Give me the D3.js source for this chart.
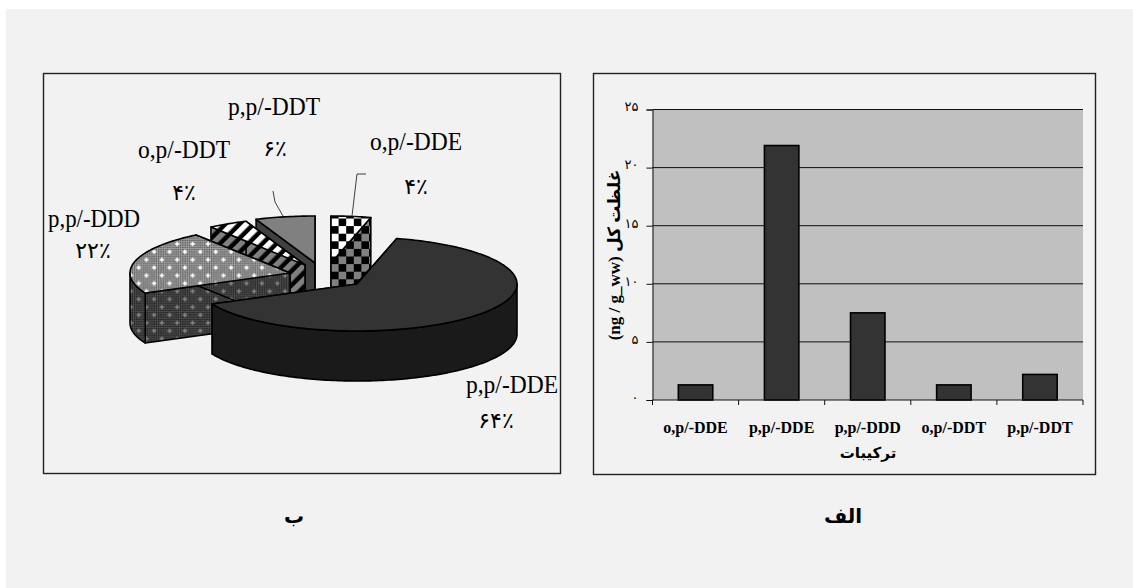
<!DOCTYPE html>
<html>
<head>
<meta charset="utf-8">
<script src="https://cdn.jsdelivr.net/npm/d3@7"></script>
<style>
  html, body { margin: 0; padding: 0; background: #fff; }
  svg { display: block; }
  text { fill: #000; }
  .serif { font-family: "Liberation Serif", "DejaVu Serif", serif; }
  .fa { font-family: "Liberation Serif", "DejaVu Sans", "Noto Sans", sans-serif; }
</style>
</head>
<body>
<div id="chart"></div>
<script>
// bar chart (panel alef)
const categories = ["o,p/-DDE", "p,p/-DDE", "p,p/-DDD", "o,p/-DDT", "p,p/-DDT"];
const barValues = [1.3, 21.9, 7.5, 1.3, 2.2];
const yTicks = [0, 5, 10, 15, 20, 25];

// pie chart (panel be)
const pieValues = [4, 64, 22, 4, 6];
const pieLabels = ["۴٪", "۶۴٪", "۲۲٪", "۴٪", "۶٪"];

const width = 1133, height = 588;

const faDigits = n => String(n).replace(/\d/g, c => "۰۱۲۳۴۵۶۷۸۹"[c]);

const svg = d3.select("#chart").append("svg")
  .attr("width", width)
  .attr("height", height);

const defs = svg.append("defs");

svg.append("rect").attr("x", 6).attr("y", 9)
  .attr("width", width - 6).attr("height", height - 9)
  .attr("fill", "#f2f2f2");

// two frames
[[43, 73, 517, 400], [593, 73, 502, 401]].forEach(r => {
  svg.append("rect")
    .attr("x", r[0] + 0.5).attr("y", r[1] + 0.5)
    .attr("width", r[2]).attr("height", r[3])
    .attr("fill", "#f2f2f2")
    .attr("stroke", "#222")
    .attr("stroke-width", 1.4);
});

// ---------- bars ----------
const plot = { left: 652.5, right: 1083, top: 109.5, bottom: 400 };

const x = d3.scaleBand()
  .domain(categories)
  .range([plot.left, plot.right])
  .paddingInner(0.6)
  .paddingOuter(0.3);

const y = d3.scaleLinear()
  .domain([0, 25])
  .range([plot.bottom, plot.top]);

svg.append("rect")
  .attr("x", plot.left).attr("y", plot.top)
  .attr("width", plot.right - plot.left).attr("height", plot.bottom - plot.top)
  .attr("fill", "#c0c0c0");

const yAxis = svg.append("g")
  .attr("transform", `translate(${plot.left},0)`)
  .call(d3.axisLeft(y).tickValues(yTicks).tickSize(6).tickPadding(8).tickFormat(faDigits));
yAxis.select(".domain").attr("stroke", "#111");
yAxis.selectAll("line").attr("stroke", "#111");
yAxis.selectAll("text")
  .attr("class", "fa")
  .attr("dy", "0.1em")
  .style("font-size", "13px")
  .attr("fill", "#222");

svg.append("g")
  .selectAll("line")
  .data(yTicks.slice(1))
  .join("line")
  .attr("x1", plot.left).attr("x2", plot.right)
  .attr("y1", d => y(d)).attr("y2", d => y(d))
  .attr("stroke", "#111")
  .attr("stroke-width", 1);

svg.append("g")
  .selectAll("rect")
  .data(barValues)
  .join("rect")
  .attr("x", (d, i) => x(categories[i]))
  .attr("y", d => y(d))
  .attr("width", x.bandwidth())
  .attr("height", d => y(0) - y(d))
  .attr("fill", "#333")
  .attr("stroke", "#000")
  .attr("stroke-width", 1.6);

const xAxis = svg.append("g")
  .attr("transform", `translate(0,${plot.bottom})`);
const xStep = x.step();
xAxis.append("line")
  .attr("x1", plot.left).attr("x2", plot.right)
  .attr("stroke", "#111");
xAxis.selectAll(".tick-mark")
  .data(d3.range(categories.length + 1))
  .join("line")
  .attr("class", "tick-mark")
  .attr("x1", i => plot.left + i * xStep)
  .attr("x2", i => plot.left + i * xStep)
  .attr("y2", 5)
  .attr("stroke", "#111");
xAxis.selectAll("text")
  .data(categories)
  .join("text")
  .attr("class", "serif")
  .attr("x", d => x(d) + x.bandwidth() / 2)
  .attr("y", 33)
  .attr("text-anchor", "middle")
  .style("font-size", "16px")
  .style("font-weight", "bold")
  .text(d => d);

svg.append("text")
  .attr("class", "fa")
  .attr("x", 868).attr("y", 458)
  .attr("text-anchor", "middle")
  .style("font-size", "15px").style("font-weight", "bold")
  .text("ترکیبات");

svg.append("text")
  .attr("class", "fa")
  .attr("transform", "translate(620,255) rotate(-90)")
  .attr("text-anchor", "middle")
  .style("font-size", "17px").style("font-weight", "bold")
  .style("direction", "ltr")
  .text("(ng / g_ww) غلظت کل");

svg.append("text")
  .attr("class", "fa")
  .attr("x", 843).attr("y", 523)
  .attr("text-anchor", "middle")
  .style("font-size", "20px").style("font-weight", "bold")
  .text("الف");

svg.append("text")
  .attr("class", "fa")
  .attr("x", 294).attr("y", 523)
  .attr("text-anchor", "middle")
  .style("font-size", "20px").style("font-weight", "bold")
  .text("ب");

// ---------- patterns ----------
function checker(id, light, size, ox, oy) {
  const p = defs.append("pattern")
    .attr("id", id)
    .attr("patternUnits", "userSpaceOnUse")
    .attr("x", ox).attr("y", oy)
    .attr("width", size * 2).attr("height", size * 2);
  p.append("rect").attr("width", size * 2).attr("height", size * 2).attr("fill", "#000");
  p.append("rect").attr("width", size).attr("height", size).attr("fill", light);
  p.append("rect").attr("x", size).attr("y", size).attr("width", size).attr("height", size).attr("fill", light);
}
checker("dde-top", "#fff", 7.6, 331, 218.5);
checker("dde-side", "#808080", 7.6, 331, 218.5);

function stripes(id, light) {
  const p = defs.append("pattern")
    .attr("id", id)
    .attr("patternUnits", "userSpaceOnUse")
    .attr("width", 10).attr("height", 10)
    .attr("patternTransform", "rotate(45)");
  p.append("rect").attr("width", 10).attr("height", 10).attr("fill", "#000");
  p.append("rect").attr("width", 5.5).attr("height", 10).attr("fill", light);
}
stripes("ddt-top", "#fff");
stripes("ddt-side", "#808080");

function dotted(id, base, dark, star) {
  const w = 15.4, h = 15.8;
  const p = defs.append("pattern")
    .attr("id", id)
    .attr("patternUnits", "userSpaceOnUse")
    .attr("x", 4).attr("y", 3)
    .attr("width", w).attr("height", h);
  p.append("rect").attr("width", w).attr("height", h).attr("fill", base);
  d3.range(0, w, 2.2).forEach(a => d3.range(0, h, 2.2).forEach(b => {
    p.append("rect").attr("x", a).attr("y", b).attr("width", 1.4).attr("height", 1.4).attr("fill", dark);
  }));
  [[3.8, 3.9], [11.5, 11.8]].forEach(c => {
    p.append("rect").attr("x", c[0] - 2.2).attr("y", c[1] - 0.8).attr("width", 4.4).attr("height", 1.6).attr("fill", star);
    p.append("rect").attr("x", c[0] - 0.8).attr("y", c[1] - 2.2).attr("width", 1.6).attr("height", 4.4).attr("fill", star);
  });
}
dotted("ddd-top", "#a8a8a8", "#555", "#fff");
dotted("ddd-side", "#505050", "#1c1c1c", "#808080");

// ---------- 3d pie ----------
const pieCenter = { x: 357, y: 284 };
const rx = 160, ry = 47, depth = 50;
// how far each slice was pulled out of the pie
const explode = [[-26, -21], [0, 0], [-67, -11], [-52, -19], [-42, -21]];
const topFill = ["url(#dde-top)", "#333", "url(#ddd-top)", "url(#ddt-top)", "#808080"];
const sideFill = ["url(#dde-side)", "#1a1a1a", "url(#ddd-side)", "url(#ddt-side)", "#404040"];
const drawOrder = [4, 3, 2, 0, 1];

const arcs = d3.pie().sort(null)(pieValues);

const line = d3.line();
const onRim = (a, c) => [c.x + rx * Math.sin(a), c.y - ry * Math.cos(a)];
const drop = p => [p[0], p[1] + depth];

function rim(a0, a1, c) {
  const n = Math.max(2, Math.ceil((a1 - a0) / 0.02));
  return d3.range(n + 1).map(i => onRim(a0 + (a1 - a0) * i / n, c));
}

const pieG = svg.append("g")
  .attr("stroke", "#000")
  .attr("stroke-width", 1.6)
  .attr("stroke-linejoin", "round");

drawOrder.forEach(i => {
  const d = arcs[i];
  const c = { x: pieCenter.x + explode[i][0], y: pieCenter.y + explode[i][1] };
  const apex = [c.x, c.y];
  const side = sideFill[i];

  // cut faces
  [d.startAngle, d.endAngle].forEach(a => {
    const p = onRim(a, c);
    pieG.append("path")
      .attr("d", line([apex, p, drop(p), drop(apex)]) + "Z")
      .attr("fill", side);
  });

  // outer wall, only the part facing the viewer
  const a0 = Math.max(d.startAngle, Math.PI / 2);
  const a1 = Math.min(d.endAngle, Math.PI * 1.5);
  if (a1 > a0) {
    const edge = rim(a0, a1, c);
    pieG.append("path")
      .attr("d", line(edge.concat(edge.slice().reverse().map(drop))) + "Z")
      .attr("fill", side);
  }

  // top
  pieG.append("path")
    .attr("d", line([apex].concat(rim(d.startAngle, d.endAngle, c))) + "Z")
    .attr("fill", topFill[i]);
});

// leader lines
[
  [[273, 191], [275, 202], [283, 216]],
  [[366, 174], [357, 174], [352, 216]]
].forEach(pts => {
  svg.append("path")
    .attr("d", line(pts))
    .attr("fill", "none")
    .attr("stroke", "#111")
    .attr("stroke-width", 0.8);
});

// label spots: name centre/baseline, percent centre/baseline
const labelSpots = [
  [416, 150, 416, 194],
  [512, 393, 496, 428],
  [94, 227, 93, 258],
  [184, 158, 184, 200],
  [274, 115, 275, 156]
];

svg.append("g")
  .selectAll("text")
  .data(categories)
  .join("text")
  .attr("class", "serif")
  .attr("x", (d, i) => labelSpots[i][0])
  .attr("y", (d, i) => labelSpots[i][1])
  .attr("text-anchor", "middle")
  .attr("textLength", 92)
  .attr("lengthAdjust", "spacingAndGlyphs")
  .style("font-size", "26px")
  .text(d => d);

svg.append("g")
  .selectAll("text")
  .data(pieLabels)
  .join("text")
  .attr("class", "fa")
  .attr("x", (d, i) => labelSpots[i][2])
  .attr("y", (d, i) => labelSpots[i][3])
  .attr("text-anchor", "middle")
  .style("font-size", "22px")
  .style("direction", "ltr")
  .text(d => d);
</script>
</body>
</html>
